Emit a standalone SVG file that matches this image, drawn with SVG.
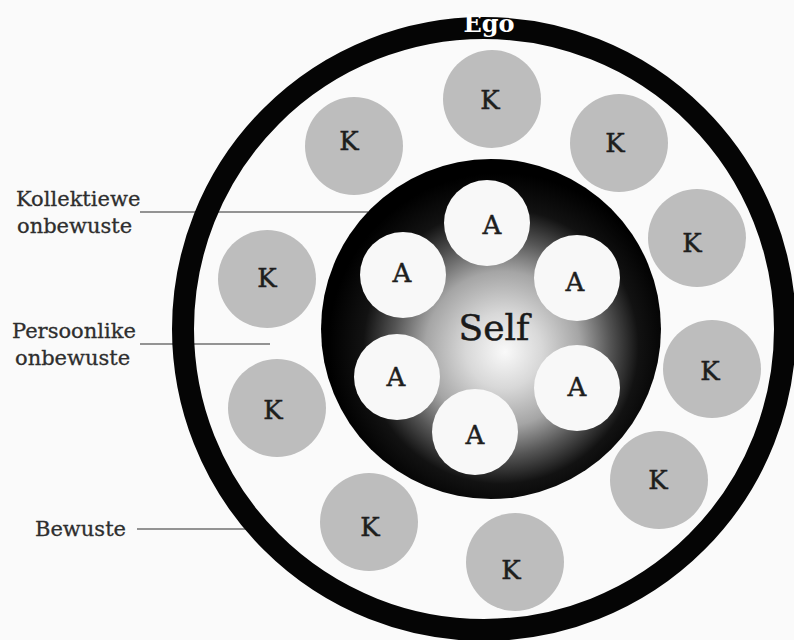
<svg xmlns="http://www.w3.org/2000/svg" width="794" height="640" viewBox="0 0 794 640">
  <defs>
    <radialGradient id="selfGrad" gradientUnits="userSpaceOnUse" cx="500" cy="345" r="172" fx="505" fy="352">
      <stop offset="0" stop-color="#f9f9f9"/>
      <stop offset="0.22" stop-color="#d8d8d8"/>
      <stop offset="0.45" stop-color="#a5a5a5"/>
      <stop offset="0.63" stop-color="#555555"/>
      <stop offset="0.8" stop-color="#121212"/>
      <stop offset="1" stop-color="#000000"/>
    </radialGradient>
  </defs>
  <style>
    .k { fill: #bdbdbd; }
    .a { fill: #f8f8f8; }
    .kt, .at { font-family: "DejaVu Serif", "Liberation Serif", serif; font-size: 26px; fill: #1e1e1e; stroke: #1e1e1e; stroke-width: 0.5; text-anchor: middle; }
    .lbl { font-family: "DejaVu Serif", "Liberation Serif", serif; font-size: 21px; fill: #2e2e2e; stroke: #2e2e2e; stroke-width: 0.3; }
    .lead { stroke: #707070; stroke-width: 1.5; fill: none; }
  </style>
  <rect width="794" height="640" fill="#fafafa"/>

  <g id="connectors">
    <line class="lead" x1="140" y1="212" x2="368" y2="212"/>
    <line class="lead" x1="140" y1="344" x2="270" y2="344"/>
    <line class="lead" x1="137" y1="529" x2="252" y2="529"/>
  </g>

  <g id="ego">
    <circle cx="484" cy="329" r="301" fill="none" stroke="#050505" stroke-width="22"/>
    <text x="489" y="32" font-family="DejaVu Serif, Liberation Serif, serif" font-size="24" font-weight="bold" fill="#ffffff" text-anchor="middle">Ego</text>
  </g>

  <g id="self">
    <circle cx="491" cy="329" r="170" fill="url(#selfGrad)"/>
    <text x="494" y="340" font-family="DejaVu Serif, Liberation Serif, serif" font-size="36" fill="#1a1a1a" stroke="#1a1a1a" stroke-width="0.5" text-anchor="middle">Self</text>
  </g>

  <g id="k1"><circle class="k" cx="354" cy="146" r="49"/><text class="kt" x="349" y="150">K</text></g>
  <g id="k2"><circle class="k" cx="492" cy="99" r="49"/><text class="kt" x="490" y="109">K</text></g>
  <g id="k3"><circle class="k" cx="619" cy="143" r="49"/><text class="kt" x="615" y="152">K</text></g>
  <g id="k4"><circle class="k" cx="697" cy="238" r="49"/><text class="kt" x="692" y="252">K</text></g>
  <g id="k5"><circle class="k" cx="712" cy="369" r="49"/><text class="kt" x="710" y="380">K</text></g>
  <g id="k6"><circle class="k" cx="659" cy="480" r="49"/><text class="kt" x="658" y="489">K</text></g>
  <g id="k7"><circle class="k" cx="515" cy="562" r="49"/><text class="kt" x="511" y="579">K</text></g>
  <g id="k8"><circle class="k" cx="369" cy="522" r="49"/><text class="kt" x="370" y="536">K</text></g>
  <g id="k9"><circle class="k" cx="277" cy="408" r="49"/><text class="kt" x="273" y="419">K</text></g>
  <g id="k10"><circle class="k" cx="267" cy="279" r="49"/><text class="kt" x="267" y="287">K</text></g>

  <g id="a1"><circle class="a" cx="487" cy="223" r="43"/><text class="at" x="492" y="234">A</text></g>
  <g id="a2"><circle class="a" cx="403" cy="275" r="43"/><text class="at" x="402" y="282">A</text></g>
  <g id="a3"><circle class="a" cx="577" cy="278" r="43"/><text class="at" x="575" y="291">A</text></g>
  <g id="a4"><circle class="a" cx="397" cy="377" r="43"/><text class="at" x="396" y="386">A</text></g>
  <g id="a5"><circle class="a" cx="577" cy="388" r="43"/><text class="at" x="577" y="396">A</text></g>
  <g id="a6"><circle class="a" cx="475" cy="432" r="43"/><text class="at" x="475" y="444">A</text></g>

  <g id="label-kollektiewe">
    <text class="lbl" x="16" y="206">Kollektiewe</text>
    <text class="lbl" x="17" y="233">onbewuste</text>
  </g>
  <g id="label-persoonlike">
    <text class="lbl" x="12" y="338">Persoonlike</text>
    <text class="lbl" x="15" y="365">onbewuste</text>
  </g>
  <g id="label-bewuste">
    <text class="lbl" x="35" y="536">Bewuste</text>
  </g>
</svg>
